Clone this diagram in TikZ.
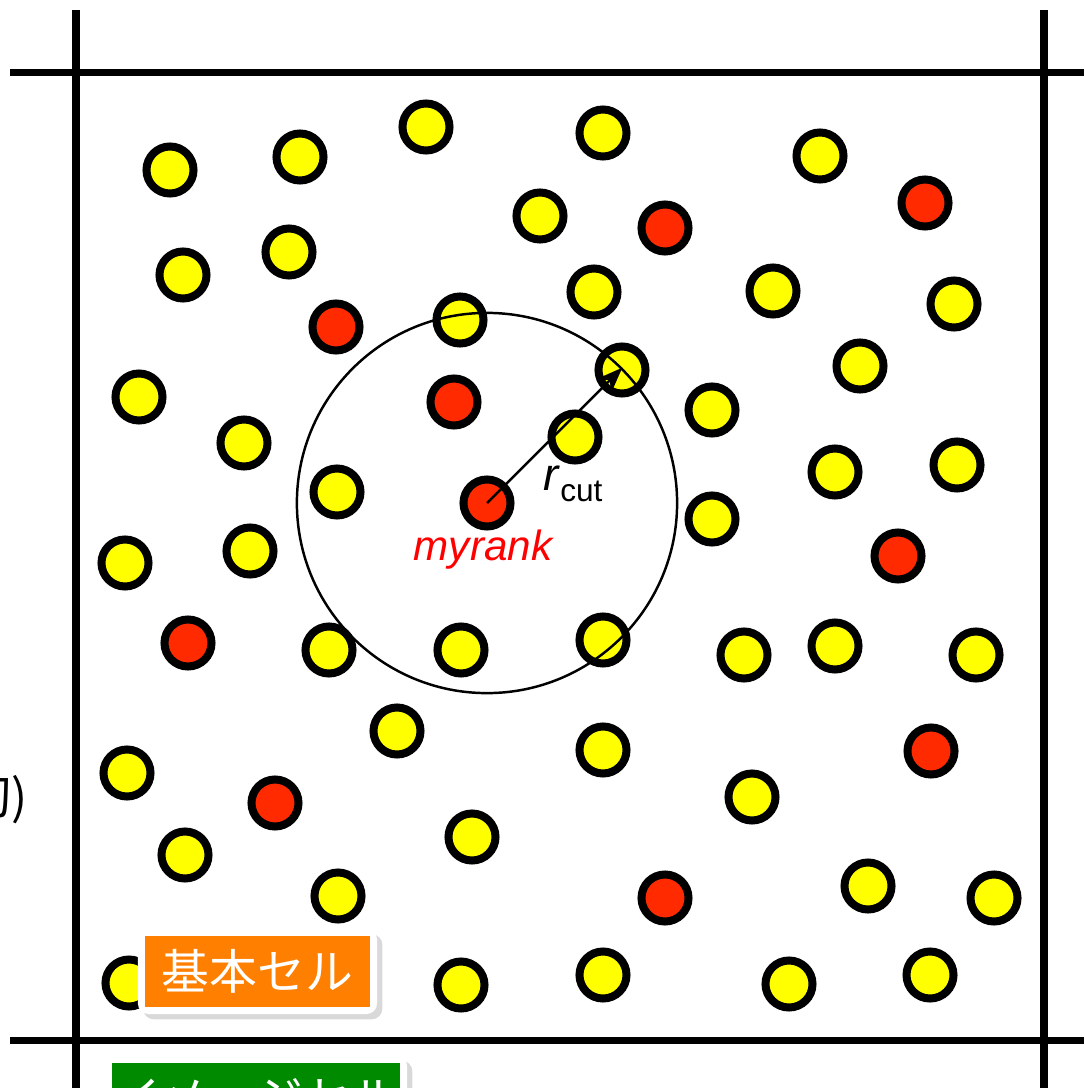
\documentclass[tikz,border=0pt]{standalone}
\usepackage{fontspec}
\setmainfont{Liberation Sans}
\newfontfamily\jpfont{Noto Sans CJK JP}
\usepackage{tikz}
\usetikzlibrary{arrows.meta, positioning, shadows}

\definecolor{atomyellow}{HTML}{FFFF00}
\definecolor{atomred}{HTML}{FF2A00}
\definecolor{cellorange}{HTML}{FF7F00}
\definecolor{cellgreen}{HTML}{008A00}

\begin{document}
\begin{tikzpicture}[
  x=0.01cm, y=-0.01cm,
  atom/.style={circle, draw=black, line width=0.08cm, minimum size=0.47cm, inner sep=0pt},
  yatom/.style={atom, fill=atomyellow},
  ratom/.style={atom, fill=atomred},
  cellline/.style={line width=0.077cm, black},
  frame/.style={rectangle, fill=white, rounded corners=3pt, inner sep=0pt,
               drop shadow={shadow xshift=1.5pt, shadow yshift=-1.5pt, opacity=0.3}},
  cellbox/.style={rectangle, inner sep=0pt, text=white, font=\jpfont\fontsize{13.6pt}{14pt}\selectfont},
  arrow/.style={-{Stealth[length=2.6mm, width=2mm]}, line width=0.7pt}
]
\useasboundingbox (0,0) rectangle (1084,1088);
\clip (0,0) rectangle (1084,1088);

% cell boundaries
\draw[cellline] (76,10) -- (76,1088);
\draw[cellline] (1044,10) -- (1044,1088);
\draw[cellline] (10,72.5) -- (1084,72.5);
\draw[cellline] (10,1040.5) -- (1084,1040.5);

% particles
\foreach \px/\py [count=\i] in {170/170, 300/157, 426/127, 603/133, 820/156, 540/216,
    183/275, 289/252, 594/292, 773/291, 954/304, 460/320, 622/370, 860/366,
    139/397, 244/443, 712/410, 575/437, 835/472, 957/465, 337/492, 712/519,
    125/563, 250/551, 329/650, 461/650, 603/640, 744/655, 835/646, 976/655,
    397/731, 603/750, 127/773, 752/797, 472/837, 185/855, 338/896, 868/886,
    994/898, 129/983, 461/985, 603/975, 789/984, 930/975}
  \node[yatom] (y\i) at (\px,\py) {};
\foreach \px/\py [count=\i] in {925/203, 665/228, 336/327, 454/402, 898/556,
    188/643, 931/751, 275/803, 665/898}
  \node[ratom] (r\i) at (\px,\py) {};
\node[ratom] (myrank) at (487,503) {};

% cutoff sphere
\node[circle, draw=black, line width=0.7pt, minimum size=3.8cm, inner sep=0pt] (cutoff) at (myrank) {};
\draw[arrow] (myrank.center) -- (cutoff.45);
\node (rcut) at (573,484) {\fontsize{13pt}{14pt}\selectfont\textit{r}\raisebox{-0.45ex}{\fontsize{9pt}{10pt}\selectfont cut}};
\node[text=red, font=\fontsize{12pt}{14pt}\selectfont\itshape] (mylabel) at (483,550) {myrank};

% cell labels
\node[frame, minimum width=2.39cm, minimum height=0.85cm] (kihonframe) at (257.5,971.5) {};
\node[cellbox, fill=cellorange, minimum width=2.24cm, minimum height=0.70cm] (kihon) at (257.5,971.5) {基本セル};
\node[frame, minimum width=3.02cm, minimum height=0.85cm] (imageframe) at (256,1098) {};
\node[cellbox, fill=cellgreen, minimum width=2.87cm, minimum height=0.70cm] (image) at (256,1098) {イメージセル};

\node[anchor=east, inner sep=0pt, font=\jpfont\fontsize{13.6pt}{14pt}\selectfont] (leftlabel) at (28,800) {切)};
\end{tikzpicture}
\end{document}
